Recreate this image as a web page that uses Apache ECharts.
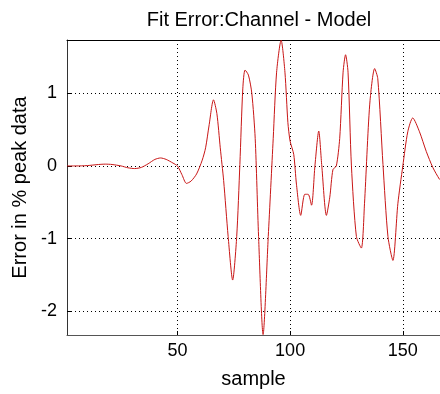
<!DOCTYPE html>
<html>
<head>
<meta charset="utf-8">
<script src="https://cdn.jsdelivr.net/npm/echarts@6/dist/echarts.min.js"></script>
<style>html,body{margin:0;padding:0;background:#fff}#c{width:440px;height:394px}</style>
</head>
<body>
<div id="c"></div>
<script>
var titleText = 'Fit Error:Channel - Model';
var xName = 'sample';
var yName = 'Error in % peak data';
var xTicks = [50, 100, 150];
var yTicks = [-2, -1, 0, 1];
var samples = [1,5,10,15,18,21,25,28,31,34,37,40,42.5,45,48,50,52,54,56,58.5,61,62.5,64,66,67.5,69,70.5,72.5,74.5,76.3,77.7,79,80,81.5,83,84.5,86,88,90.3,92.5,94,96,97.7,99,100,101.6,102.8,104.7,106.5,108,109.5,111,112.7,114,116.1,117.6,119,120.5,122,123.5,124.6,125.7,127.2,129.4,131.6,133,135.3,137.5,138.9,141.2,143.4,145.6,147.8,150,152.2,154.4,157.4,160.4,163.3,166.2,167];
var errors = [0,0,0.005,0.02,0.025,0.02,0.0,-0.025,-0.036,-0.02,0.03,0.09,0.11,0.09,0.04,0.0,-0.12,-0.24,-0.21,-0.11,0.08,0.25,0.55,0.91,0.72,0.25,-0.2,-0.97,-1.57,-0.97,0.02,1.06,1.32,1.25,1.0,0.38,-0.97,-2.32,-0.97,0.38,1.29,1.73,1.29,0.6,0.34,0.16,-0.25,-0.68,-0.39,-0.39,-0.54,0.0,0.48,0.02,-0.68,-0.43,-0.05,0.0,0.38,1.29,1.53,1.29,0,-0.97,-1.13,-0.52,0.84,1.34,1.2,0.02,-0.97,-1.30,-0.52,0,0.47,0.66,0.47,0.2,-0.02,-0.18,-0.2];

var pts = samples.map(function(s, i){ return [s, errors[i]]; });
var font = '"Liberation Sans", Arial, sans-serif';
var chart = echarts.init(document.getElementById('c'), null, {renderer:'canvas'});
chart.setOption({
  animation: false,
  backgroundColor: '#fff',
  title: {
    text: titleText, left: 254, top: 5, textAlign: 'center',
    textStyle: {fontFamily: font, fontSize: 20, fontWeight: 'normal', color: '#000'}
  },
  grid: {left: 67, top: 40, bottom: 55, right: 0, show: false},
  xAxis: [{
    type: 'value', min: 1, max: 166.5,
    name: xName, nameLocation: 'middle', nameGap: 34,
    nameTextStyle: {fontFamily: font, fontSize: 20, color: '#000'},
    axisLine: {show: true, onZero: false, lineStyle: {color: '#555', width: 1}},
    axisTick: {show: true, inside: true, length: 4, customValues: xTicks, lineStyle: {color: '#000'}},
    axisLabel: {customValues: xTicks, fontFamily: font, fontSize: 18, color: '#000', margin: 7},
    splitLine: {show: true, lineStyle: {color: '#000', type: [1, 3], width: 1}}
  }, {
    type: 'value', min: 1, max: 166.5, position: 'top',
    axisLine: {show: true, onZero: false, lineStyle: {color: '#000', width: 1}},
    axisTick: {show: false}, axisLabel: {show: false}, splitLine: {show: false}
  }],
  yAxis: {
    type: 'value', min: -2.326, max: 1.733,
    name: yName, nameLocation: 'middle', nameGap: 29, nameRotate: 90,
    nameTextStyle: {fontFamily: font, fontSize: 20, color: '#000'},
    axisLine: {show: true, onZero: false, lineStyle: {color: '#333', width: 1}},
    axisTick: {show: true, inside: true, length: 4, customValues: yTicks, lineStyle: {color: '#000'}},
    axisLabel: {customValues: yTicks, fontFamily: font, fontSize: 18, color: '#000', margin: 10},
    splitLine: {show: true, lineStyle: {color: '#000', type: [1, 3], width: 1}}
  },
  series: [{
    type: 'line', data: pts, smooth: 0.25, symbol: 'none', clip: true,
    xAxisIndex: 0, yAxisIndex: 0,
    lineStyle: {color: '#c81616', width: 1}
  }]
});
</script>
</body>
</html>
